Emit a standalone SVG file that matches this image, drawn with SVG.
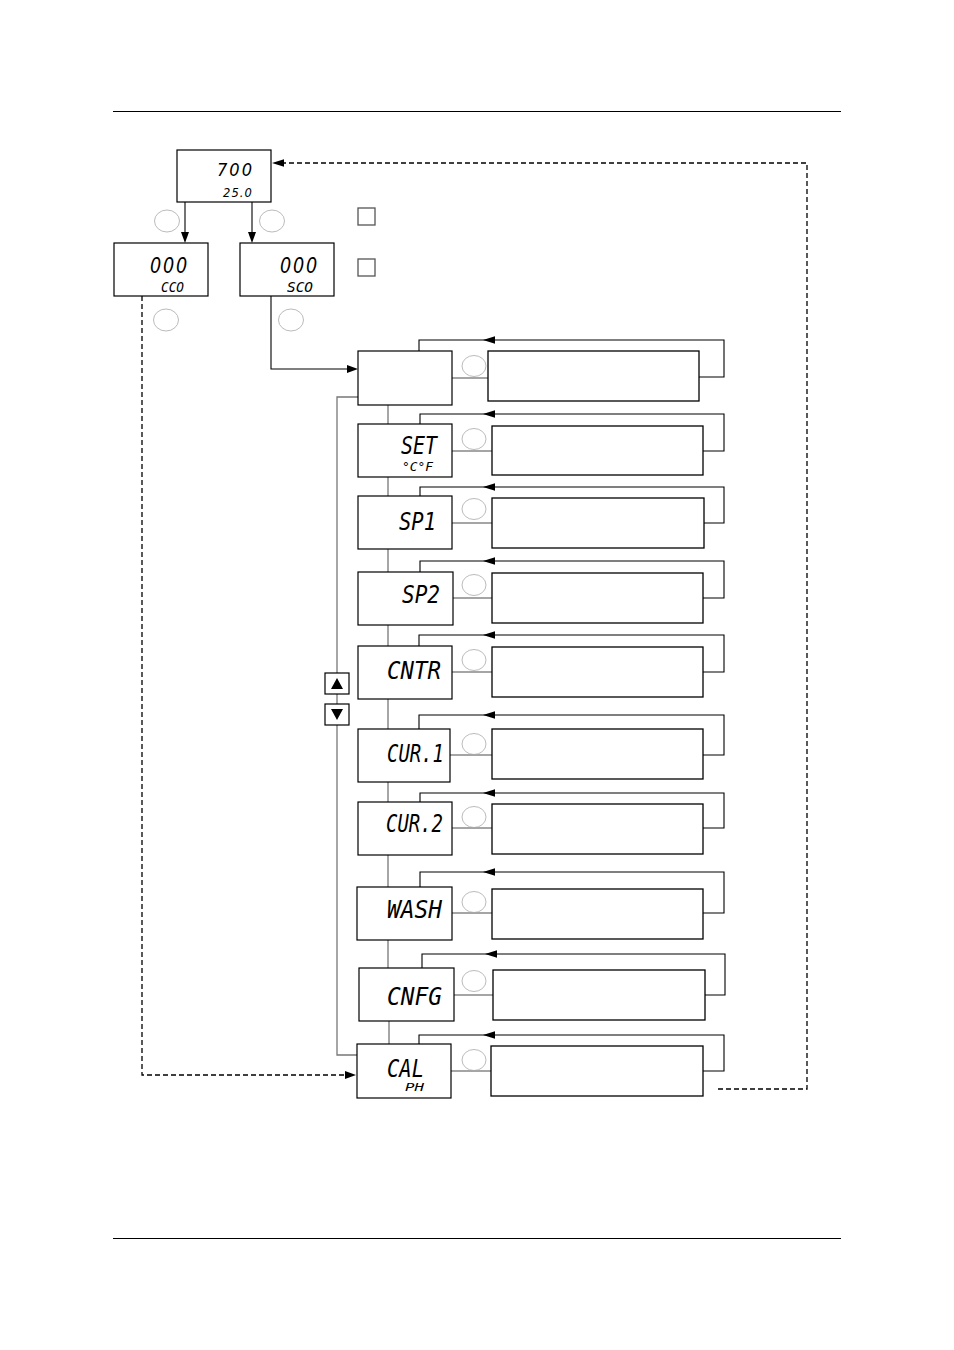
<svg xmlns="http://www.w3.org/2000/svg" width="954" height="1350" viewBox="0 0 954 1350">
<style>
.bx{fill:#fff;stroke:#000;stroke-width:1.2}
.rb{fill:#fff;stroke:#000;stroke-width:1.3}
.ln{fill:none;stroke:#000;stroke-width:1.1}
.sp{fill:none;stroke:#777;stroke-width:1.3}
.cn{fill:none;stroke:#888;stroke-width:1.3}
.ds{fill:none;stroke:#000;stroke-width:1.3;stroke-dasharray:5 3}
.ci{fill:none;stroke:#aaa;stroke-width:0.8}
.sq{fill:#fff;stroke:#555;stroke-width:1.3}
.lcd{font-family:"DejaVu Sans Mono","Liberation Mono",monospace;font-style:oblique;fill:#000}
.num{font-family:"DejaVu Sans Condensed","DejaVu Sans",sans-serif;font-style:oblique;letter-spacing:2px;fill:#000}
.hr{stroke:#000;stroke-width:1}
</style>
<defs>
<path id="aL" d="M0,0 L12,-3.8 L12,3.8 Z" fill="#000"/>
<path id="aR" d="M0,0 L-11,-4 L-11,4 Z" fill="#000"/>
<path id="aD" d="M0,0 L-4,-11 L4,-11 Z" fill="#000"/>
</defs>

<line class="hr" x1="113" y1="111.5" x2="841" y2="111.5"/>
<line class="hr" x1="113" y1="1238.5" x2="841" y2="1238.5"/>

<g id="connectors">
  <line class="ln" x1="185" y1="202" x2="185" y2="234"/>
  <use href="#aD" x="185" y="243"/>
  <line class="ln" x1="252" y1="202" x2="252" y2="234"/>
  <use href="#aD" x="252" y="243"/>
  <path class="ln" d="M271,296 V369 H348"/>
  <use href="#aR" x="358" y="369"/>
  <path class="ds" d="M142,296 V1075 H346"/>
  <use href="#aR" x="356" y="1075"/>
  <path class="ds" d="M718,1089 H807 V163 H283"/>
  <use href="#aL" x="272" y="163"/>
  <path class="sp" d="M358,397 H337 V1055 H357"/>
  <path class="sp" d="M388,405 V424 M388,477 V496 M388,549 V572 M388,625 V646 M388,699 V729 M388,782 V802 M388,855 V887 M388,940 V968 M389,1021 V1044"/>
  <path class="cn" d="M452,378 H488 M452,451 H492 M452,523 H492 M453,598 H492 M452,672 H492 M450,755 H492 M452,828 H492 M452,913 H492 M454,995 H493 M451,1071 H491"/>
  <path class="ln" d="M699,377 H724 V340 H419 V351"/>
  <use href="#aL" x="483" y="340"/>
  <path class="ln" d="M703,451 H724 V414 H420 V424"/>
  <use href="#aL" x="483" y="414"/>
  <path class="ln" d="M704,523 H724 V487 H420 V496"/>
  <use href="#aL" x="483" y="487"/>
  <path class="ln" d="M703,598 H724 V561 H420 V572"/>
  <use href="#aL" x="483" y="561"/>
  <path class="ln" d="M703,672 H724 V635 H419 V646"/>
  <use href="#aL" x="483" y="635"/>
  <path class="ln" d="M703,755 H724 V715 H419 V729"/>
  <use href="#aL" x="483" y="715"/>
  <path class="ln" d="M703,828 H724 V793 H420 V802"/>
  <use href="#aL" x="483" y="793"/>
  <path class="ln" d="M703,913 H724 V872 H420 V887"/>
  <use href="#aL" x="483" y="872"/>
  <path class="ln" d="M705,995 H725 V954 H422 V968"/>
  <use href="#aL" x="485" y="954"/>
  <path class="ln" d="M703,1071 H724 V1035 H419 V1044"/>
  <use href="#aL" x="483" y="1035"/>
</g>

<g id="key-circles">
  <ellipse class="ci" cx="167" cy="221" rx="12.5" ry="11"/>
  <ellipse class="ci" cx="272" cy="221" rx="12.5" ry="11"/>
  <ellipse class="ci" cx="166" cy="320" rx="12.5" ry="11"/>
  <ellipse class="ci" cx="291" cy="320" rx="12.5" ry="11"/>
  <ellipse class="ci" cx="474" cy="366" rx="12" ry="10.5"/>
  <ellipse class="ci" cx="474" cy="439" rx="12" ry="10.5"/>
  <ellipse class="ci" cx="474" cy="509" rx="12" ry="10.5"/>
  <ellipse class="ci" cx="474" cy="585" rx="12" ry="10.5"/>
  <ellipse class="ci" cx="474" cy="660" rx="12" ry="10.5"/>
  <ellipse class="ci" cx="474" cy="744" rx="12" ry="10.5"/>
  <ellipse class="ci" cx="474" cy="817" rx="12" ry="10.5"/>
  <ellipse class="ci" cx="474" cy="902" rx="12" ry="10.5"/>
  <ellipse class="ci" cx="474" cy="981" rx="12" ry="10.5"/>
  <ellipse class="ci" cx="474" cy="1060" rx="12" ry="10.5"/>
</g>

<g id="key-squares">
  <rect class="sq" x="358" y="208" width="17" height="17"/>
  <rect class="sq" x="358" y="259" width="17" height="17"/>
</g>

<g id="buttons">
  <g id="btn-up">
    <rect class="bx" x="325" y="673" width="24" height="21"/>
    <path d="M337,678 L343,689 L331,689 Z" fill="#000"/>
  </g>
  <g id="btn-down">
    <rect class="bx" x="325" y="704" width="24" height="21"/>
    <path d="M337,720 L343,709 L331,709 Z" fill="#000"/>
  </g>
</g>

<g id="node-main">
  <rect class="bx" x="177" y="150" width="94" height="52"/>
  <text class="num" x="217" y="176" font-size="18" textLength="37" lengthAdjust="spacingAndGlyphs">700</text>
  <text class="num" x="223" y="197" font-size="11.5" textLength="30" lengthAdjust="spacingAndGlyphs" style="letter-spacing:1px">25.0</text>
</g>
<g id="node-cco">
  <rect class="bx" x="114" y="243" width="94" height="53"/>
  <text class="num" x="150" y="273" font-size="22" textLength="39" lengthAdjust="spacingAndGlyphs">000</text>
  <text class="lcd" x="161" y="292" font-size="14" textLength="23" lengthAdjust="spacingAndGlyphs">CCO</text>
</g>
<g id="node-sco">
  <rect class="bx" x="240" y="243" width="94" height="53"/>
  <text class="num" x="280" y="273" font-size="22" textLength="39" lengthAdjust="spacingAndGlyphs">000</text>
  <text class="lcd" x="287" y="292" font-size="14" textLength="26" lengthAdjust="spacingAndGlyphs">SCO</text>
</g>

<g id="node-menu">
  <rect class="bx" x="358" y="351" width="94" height="54"/>
  <rect class="rb" x="488" y="351" width="211" height="50"/>
</g>
<g id="node-set">
  <rect class="bx" x="358" y="424" width="94" height="53"/>
  <text class="lcd" x="401" y="454" font-size="24" textLength="36" lengthAdjust="spacingAndGlyphs">SET</text>
  <text class="lcd" x="402" y="471" font-size="12" textLength="31" lengthAdjust="spacingAndGlyphs">°C°F</text>
  <rect class="rb" x="492" y="426" width="211" height="49"/>
</g>
<g id="node-sp1">
  <rect class="bx" x="358" y="496" width="94" height="53"/>
  <text class="lcd" x="399" y="530" font-size="25" textLength="37" lengthAdjust="spacingAndGlyphs">SP1</text>
  <rect class="rb" x="492" y="498" width="212" height="50"/>
</g>
<g id="node-sp2">
  <rect class="bx" x="358" y="572" width="95" height="53"/>
  <text class="lcd" x="402" y="603" font-size="25" textLength="38" lengthAdjust="spacingAndGlyphs">SP2</text>
  <rect class="rb" x="492" y="573" width="211" height="50"/>
</g>
<g id="node-cntr">
  <rect class="bx" x="358" y="646" width="94" height="53"/>
  <text class="lcd" x="387" y="679" font-size="25" textLength="54" lengthAdjust="spacingAndGlyphs">CNTR</text>
  <rect class="rb" x="492" y="647" width="211" height="50"/>
</g>
<g id="node-cur1">
  <rect class="bx" x="358" y="729" width="92" height="53"/>
  <text class="lcd" x="387" y="762" font-size="25" textLength="57" lengthAdjust="spacingAndGlyphs">CUR.1</text>
  <rect class="rb" x="492" y="729" width="211" height="50"/>
</g>
<g id="node-cur2">
  <rect class="bx" x="358" y="802" width="94" height="53"/>
  <text class="lcd" x="386" y="832" font-size="25" textLength="57" lengthAdjust="spacingAndGlyphs">CUR.2</text>
  <rect class="rb" x="492" y="804" width="211" height="50"/>
</g>
<g id="node-wash">
  <rect class="bx" x="357" y="887" width="95" height="53"/>
  <text class="lcd" x="387" y="918" font-size="25" textLength="55" lengthAdjust="spacingAndGlyphs">WASH</text>
  <rect class="rb" x="492" y="889" width="211" height="50"/>
</g>
<g id="node-cnfg">
  <rect class="bx" x="359" y="968" width="95" height="53"/>
  <text class="lcd" x="387" y="1005" font-size="25" textLength="55" lengthAdjust="spacingAndGlyphs">CNFG</text>
  <rect class="rb" x="493" y="970" width="212" height="50"/>
</g>
<g id="node-cal">
  <rect class="bx" x="357" y="1044" width="94" height="54"/>
  <text class="lcd" x="387" y="1077" font-size="25" textLength="37" lengthAdjust="spacingAndGlyphs">CAL</text>
  <text class="lcd" x="405" y="1091" font-size="11" textLength="19" lengthAdjust="spacingAndGlyphs">PH</text>
  <rect class="rb" x="491" y="1046" width="212" height="50"/>
</g>
</svg>
